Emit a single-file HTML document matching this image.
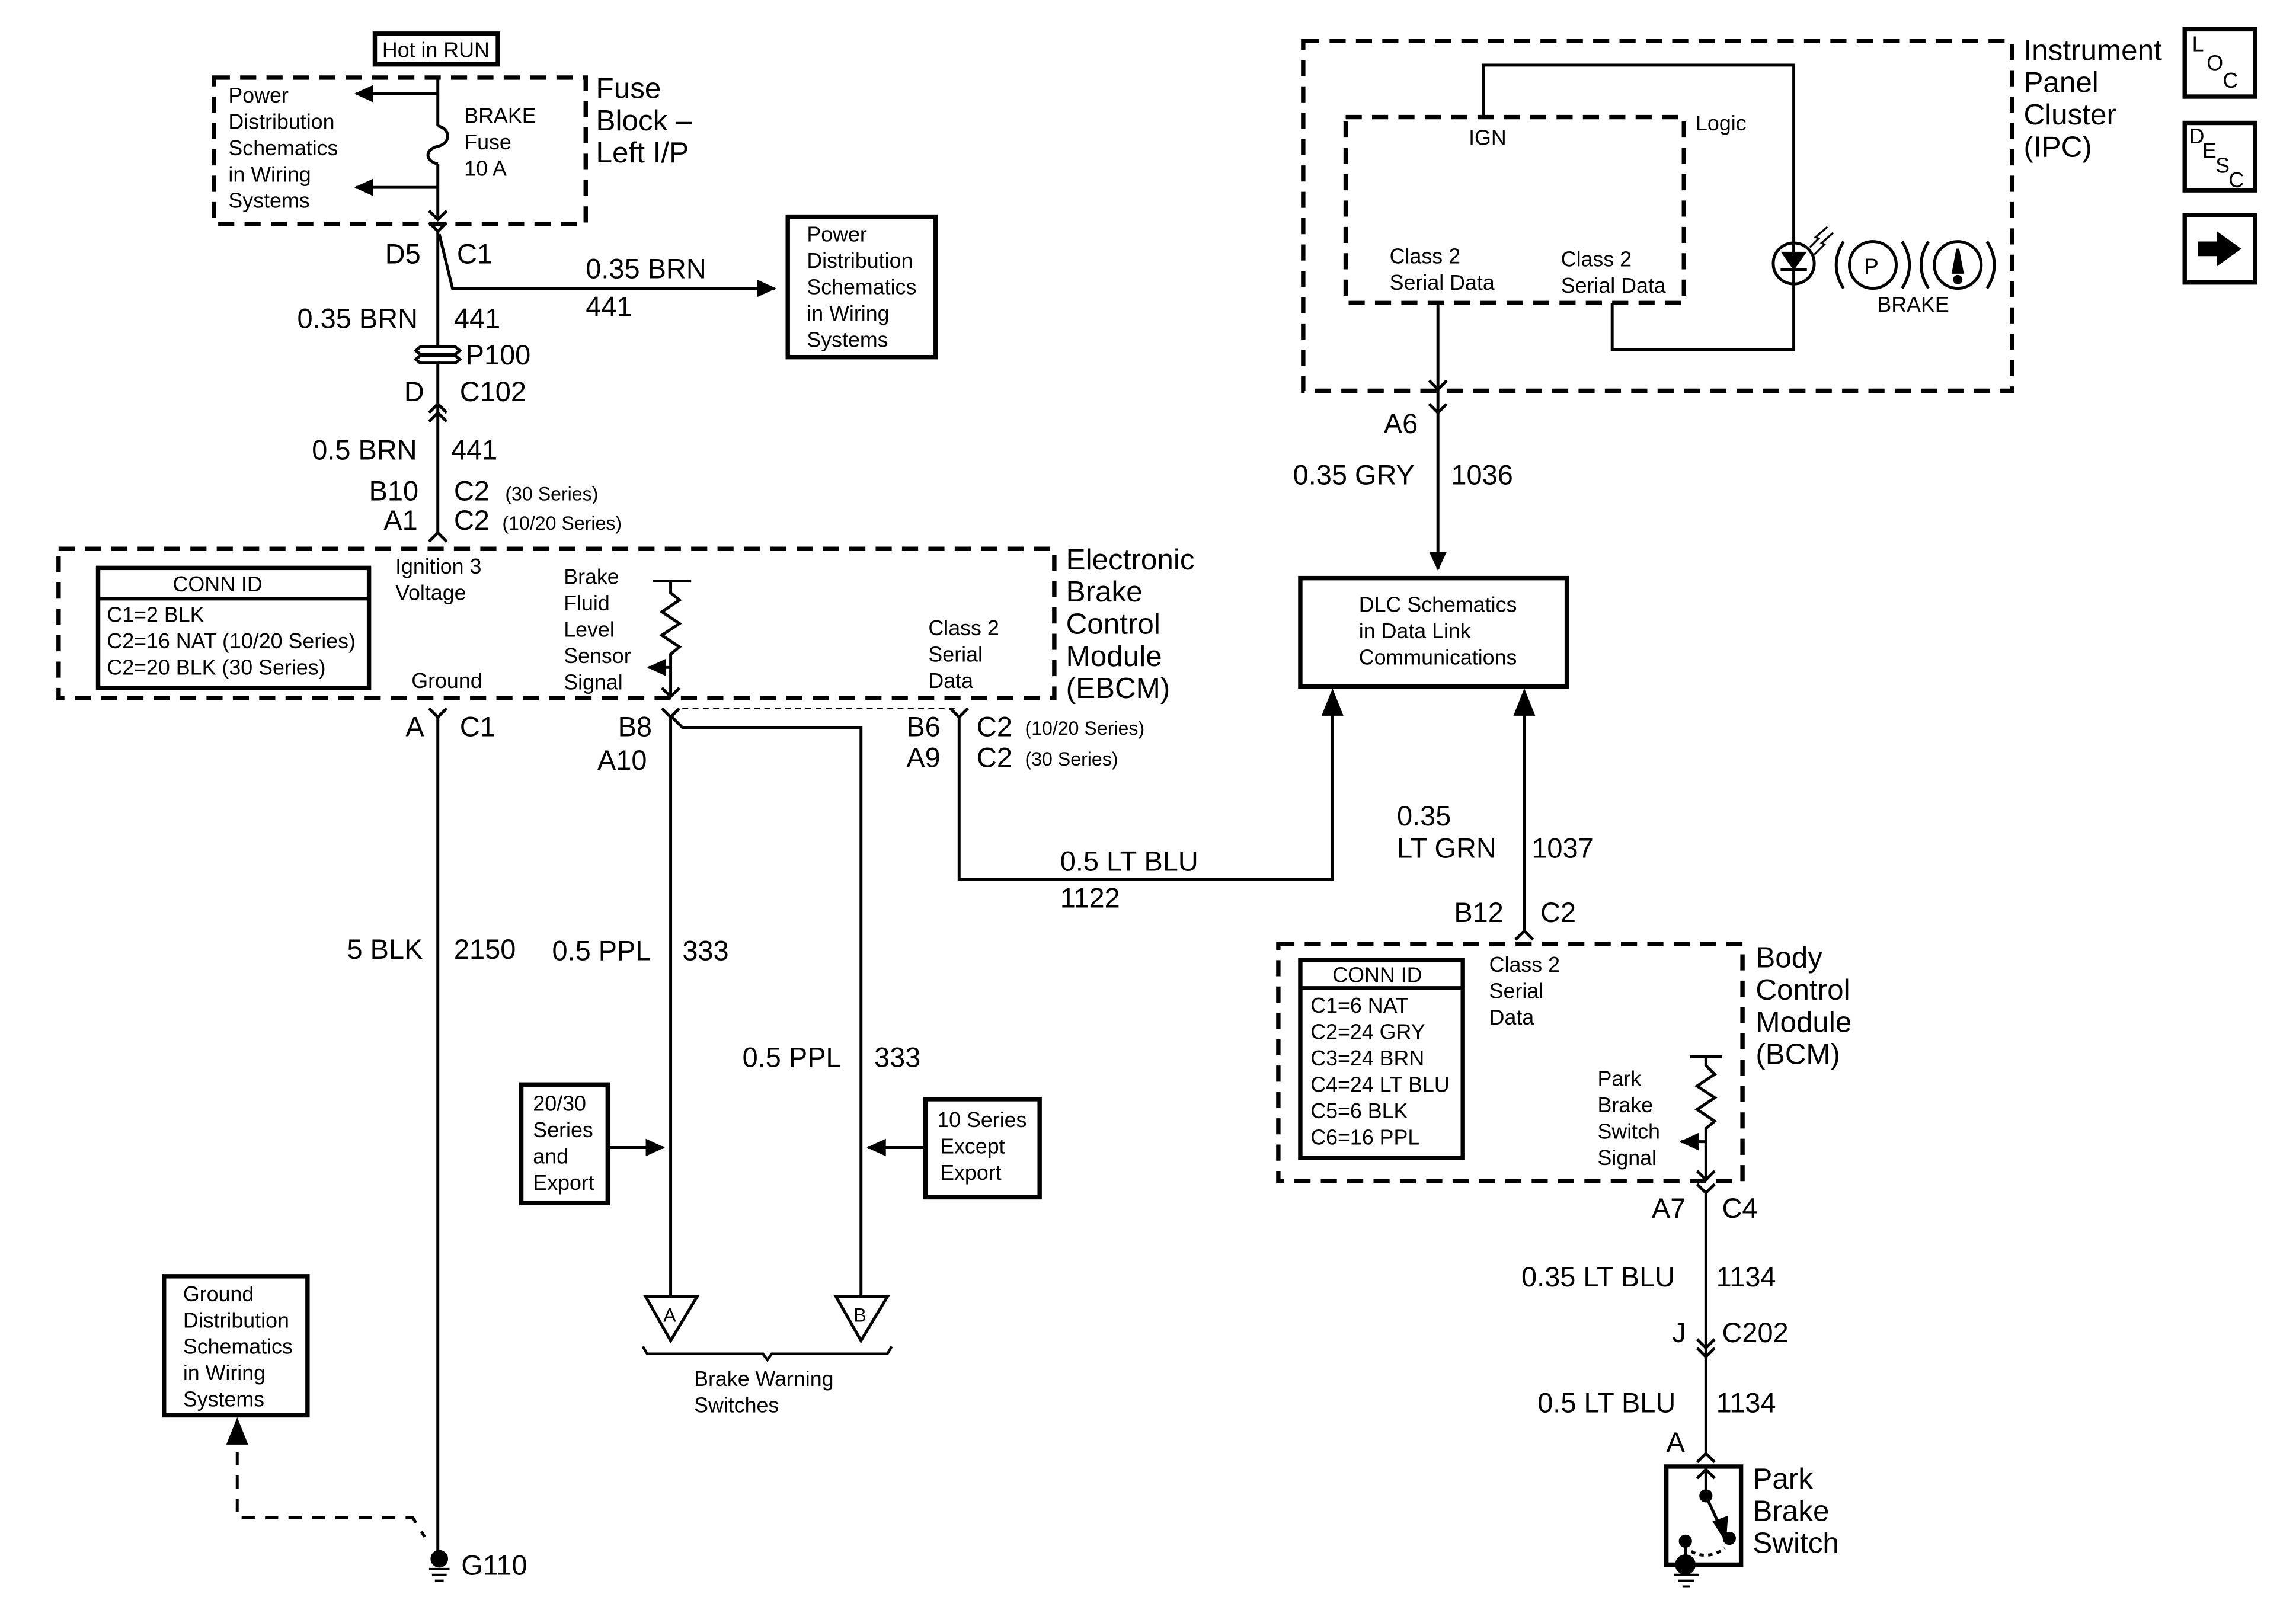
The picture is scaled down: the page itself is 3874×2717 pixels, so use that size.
<!DOCTYPE html>
<html><head><meta charset="utf-8"><style>
html,body{margin:0;padding:0;background:#fff}
svg{display:block}
text{font-family:"Liberation Sans",sans-serif;fill:#000}
.s{font-size:14.5px}
.m{font-size:19px}
.l{font-size:20px}
.xs{font-size:13px}
</style></head><body>
<svg width="3874" height="2717" viewBox="0 0 1568 1100" preserveAspectRatio="none" xmlns="http://www.w3.org/2000/svg">
<defs>
<marker id="ah" markerWidth="13" markerHeight="12" refX="12" refY="6" orient="auto" markerUnits="userSpaceOnUse"><path d="M0,0 L13,6 L0,12 Z" fill="#000"/></marker>
</defs>
<g fill="none" stroke="#000" stroke-width="2">
<rect x="256" y="23" width="84" height="21" stroke-width="3"/>
<rect x="146" y="53" width="254" height="100" stroke-width="3" stroke-dasharray="11 7"/>
<path d="M299 53 V86 M299 112 V150"/>
<path d="M299 86 C308 88 308 98 299 100 C290 102 290 110 299 112"/>
<path d="M299 64 H243" marker-end="url(#ah)"/>
<path d="M299 128 H243" marker-end="url(#ah)"/>
<path d="M293 144 L299 150 L305 144"/>
<path d="M293 152 L299 158 L305 152"/>
<path d="M299 158 V364"/>
<path d="M300 160 L309 197 H529" marker-end="url(#ah)"/>
<rect x="538" y="148" width="101" height="96" stroke-width="3"/>
<path d="M287 237 H311 L314 239.5 L311 242 H287 L284 239.5 Z" fill="#fff"/>
<path d="M287 243 H311 L314 245.5 L311 248 H287 L284 245.5 Z" fill="#fff"/>
<path d="M293 282 L299 276 L305 282 M293 288 L299 282 L305 288"/>
<path d="M293 370 L299 364 L305 370"/>
<rect x="40" y="375" width="680" height="102" stroke-width="3" stroke-dasharray="11 7"/>
<rect x="67" y="388" width="185" height="82" stroke-width="3"/>
<path d="M67 409 H252" stroke-width="2.5"/>
<path d="M446 397 H472 M458 397 V405 L464 410 L452 418 L464 426 L452 434 L464 442 L458 447 V476"/>
<path d="M458 456 H443" marker-end="url(#ah)"/>
<path d="M452 470 L458 476 L464 470"/>
<path d="M293 484 L299 490 L305 484 M299 490 V1062"/>
<path d="M452 484 L458 490 L464 484 M458 490 V886"/>
<path d="M459 490 L466 497 H588 V886"/>
<path d="M466 484 H655" stroke-width="1.2" stroke-dasharray="4 3"/>
<path d="M649 484 L655 490 L661 484 M655 490 V601 H910 V485"/>
<path d="M910 473 L904 488 H916 Z" fill="#000"/>
<rect x="356" y="741" width="59" height="81" stroke-width="3"/>
<path d="M415 784 H453" marker-end="url(#ah)"/>
<rect x="632" y="751" width="78" height="67" stroke-width="3"/>
<path d="M632 784 H593" marker-end="url(#ah)"/>
<path d="M441 886 H476 L458 916 Z"/>
<path d="M571 886 H606 L588 916 Z"/>
<path d="M439 920 L442 925 H521 L524 929 L527 925 H606 L609 920" stroke-width="1.8"/>
<rect x="112" y="872" width="98" height="95" stroke-width="3"/>
<path d="M162 971 L156 986 H168 Z" fill="#000"/>
<path d="M162 992 V1037 H282 L290 1050" stroke-dasharray="9 7"/>
<circle cx="300" cy="1065" r="5" fill="#000"/>
<path d="M293 1072 H307 M295 1076 H305 M297 1080 H303" stroke-width="1.6"/>
<rect x="890" y="28" width="484" height="239" stroke-width="3" stroke-dasharray="11 7"/>
<rect x="919" y="80" width="231" height="127" stroke-width="3" stroke-dasharray="11 7"/>
<path d="M1013 80 V44.5 H1225 V239 H1101 V207"/>
<circle cx="1225" cy="180" r="14"/>
<path d="M1218 173 H1232 L1225 183 Z" fill="#000"/>
<path d="M1216 184 H1234"/>
<path d="M1236 169 L1242 163 L1240 162 L1248 155 M1239 174 L1246 167 L1244 166 L1252 159" stroke-width="1.3"/>
<circle cx="1279" cy="181" r="16"/>
<path d="M1259 165 Q1249 181 1259 197 M1299 165 Q1309 181 1299 197"/>
<circle cx="1337" cy="181" r="16"/>
<path d="M1317 165 Q1307 181 1317 197 M1357 165 Q1367 181 1357 197"/>
<path d="M1337 170 L1334 186 H1340 Z" fill="#000"/>
<circle cx="1337" cy="191" r="2.2" fill="#000"/>
<path d="M982 207 V389" marker-end="url(#ah)"/>
<path d="M976 260 L982 266 L988 260"/>
<path d="M976 276 L982 282 L988 276"/>
<rect x="888" y="395" width="182" height="74" stroke-width="3"/>
<path d="M1041 473 L1035 488 H1047 Z" fill="#000"/>
<path d="M1041 487 V636"/>
<path d="M1035 642 L1041 636 L1047 642"/>
<rect x="873" y="645" width="317" height="162" stroke-width="3" stroke-dasharray="11 7"/>
<rect x="888" y="656" width="111" height="135" stroke-width="3"/>
<path d="M888 675 H999" stroke-width="2.5"/>
<path d="M1154 722 H1176 M1165 722 V728 L1171 734 L1159 742 L1171 750 L1159 758 L1171 766 L1165 771 V806"/>
<path d="M1165 780 H1148" marker-end="url(#ah)"/>
<path d="M1159 800 L1165 806 L1171 800"/>
<path d="M1159 809 L1165 815 L1171 809 M1165 815 V993"/>
<path d="M1159 915 L1165 921 L1171 915 M1159 921 L1165 927 L1171 921"/>
<path d="M1159 999 L1165 993 L1171 999"/>
<rect x="1138" y="1002" width="51" height="67" stroke-width="3"/>
<path d="M1159 1010 L1165 1004 L1171 1010 M1165 1004 V1022 L1177 1048"/>
<path d="M1178 1051 L1171 1040 L1179 1037 Z" fill="#000"/>
<circle cx="1165" cy="1022" r="3.5" fill="#000"/>
<circle cx="1181" cy="1051" r="3.5" fill="#000"/>
<circle cx="1151" cy="1053" r="3.5" fill="#000"/>
<path d="M1151 1053 V1066"/>
<path d="M1155 1060 Q1166 1066 1178 1058" stroke-dasharray="3 3"/>
<circle cx="1151" cy="1069" r="6" fill="#000"/>
<path d="M1143 1076 H1160 M1146 1080 H1157 M1149 1084 H1154" stroke-width="1.6"/>
<rect x="1492" y="20" width="48" height="46" stroke-width="3"/>
<rect x="1492" y="84" width="48" height="46" stroke-width="3"/>
<rect x="1492" y="147" width="48" height="46" stroke-width="3"/>
<path d="M1502 166 H1515 V160 L1529 170 L1515 180 V174 H1502 Z" fill="#000"/>
</g>
<g>
<text class="s" x="261" y="39">Hot in RUN</text>
<text class="s" x="156" y="70">Power</text>
<text class="s" x="156" y="88">Distribution</text>
<text class="s" x="156" y="106">Schematics</text>
<text class="s" x="156" y="124">in Wiring</text>
<text class="s" x="156" y="142">Systems</text>
<text class="s" x="317" y="84">BRAKE</text>
<text class="s" x="317" y="102">Fuse</text>
<text class="s" x="317" y="120">10 A</text>
<text class="l" x="407" y="67">Fuse</text>
<text class="l" x="407" y="89">Block –</text>
<text class="l" x="407" y="111">Left I/P</text>
<text class="m" x="263" y="180">D5</text>
<text class="m" x="312" y="180">C1</text>
<text class="m" x="400" y="190">0.35 BRN</text>
<text class="m" x="400" y="216">441</text>
<text class="s" x="551" y="165">Power</text>
<text class="s" x="551" y="183">Distribution</text>
<text class="s" x="551" y="201">Schematics</text>
<text class="s" x="551" y="219">in Wiring</text>
<text class="s" x="551" y="237">Systems</text>
<text class="m" x="203" y="224">0.35 BRN</text>
<text class="m" x="310" y="224">441</text>
<text class="m" x="318" y="249">P100</text>
<text class="m" x="276" y="274">D</text>
<text class="m" x="314" y="274">C102</text>
<text class="m" x="213" y="314">0.5 BRN</text>
<text class="m" x="308" y="314">441</text>
<text class="m" x="252" y="342">B10</text>
<text class="m" x="310" y="342">C2</text>
<text class="xs" x="345" y="342">(30 Series)</text>
<text class="m" x="262" y="362">A1</text>
<text class="m" x="310" y="362">C2</text>
<text class="xs" x="343" y="362">(10/20 Series)</text>
<text class="s" x="118" y="404">CONN ID</text>
<text class="s" x="73" y="425">C1=2 BLK</text>
<text class="s" x="73" y="443">C2=16 NAT (10/20 Series)</text>
<text class="s" x="73" y="461">C2=20 BLK (30 Series)</text>
<text class="s" x="270" y="392">Ignition 3</text>
<text class="s" x="270" y="410">Voltage</text>
<text class="s" x="281" y="470">Ground</text>
<text class="s" x="385" y="399">Brake</text>
<text class="s" x="385" y="417">Fluid</text>
<text class="s" x="385" y="435">Level</text>
<text class="s" x="385" y="453">Sensor</text>
<text class="s" x="385" y="471">Signal</text>
<text class="s" x="634" y="434">Class 2</text>
<text class="s" x="634" y="452">Serial</text>
<text class="s" x="634" y="470">Data</text>
<text class="l" x="728" y="389">Electronic</text>
<text class="l" x="728" y="411">Brake</text>
<text class="l" x="728" y="433">Control</text>
<text class="l" x="728" y="455">Module</text>
<text class="l" x="728" y="477">(EBCM)</text>
<text class="m" x="277" y="503">A</text>
<text class="m" x="314" y="503">C1</text>
<text class="m" x="422" y="503">B8</text>
<text class="m" x="408" y="526">A10</text>
<text class="m" x="619" y="503">B6</text>
<text class="m" x="619" y="524">A9</text>
<text class="m" x="667" y="503">C2</text>
<text class="xs" x="700" y="502">(10/20 Series)</text>
<text class="m" x="667" y="524">C2</text>
<text class="xs" x="700" y="523">(30 Series)</text>
<text class="m" x="724" y="595">0.5 LT BLU</text>
<text class="m" x="724" y="620">1122</text>
<text class="m" x="237" y="655">5 BLK</text>
<text class="m" x="310" y="655">2150</text>
<text class="m" x="377" y="656">0.5 PPL</text>
<text class="m" x="466" y="656">333</text>
<text class="m" x="507" y="729">0.5 PPL</text>
<text class="m" x="597" y="729">333</text>
<text class="s" x="364" y="759">20/30</text>
<text class="s" x="364" y="777">Series</text>
<text class="s" x="364" y="795">and</text>
<text class="s" x="364" y="813">Export</text>
<text class="s" x="640" y="770">10 Series</text>
<text class="s" x="642" y="788">Except</text>
<text class="s" x="642" y="806">Export</text>
<text class="xs" x="453" y="903">A</text>
<text class="xs" x="583" y="903">B</text>
<text class="s" x="474" y="947">Brake Warning</text>
<text class="s" x="474" y="965">Switches</text>
<text class="s" x="125" y="889">Ground</text>
<text class="s" x="125" y="907">Distribution</text>
<text class="s" x="125" y="925">Schematics</text>
<text class="s" x="125" y="943">in Wiring</text>
<text class="s" x="125" y="961">Systems</text>
<text class="m" x="315" y="1076">G110</text>
<text class="s" x="1003" y="99">IGN</text>
<text class="s" x="1158" y="89">Logic</text>
<text class="s" x="949" y="180">Class 2</text>
<text class="s" x="949" y="198">Serial Data</text>
<text class="s" x="1066" y="182">Class 2</text>
<text class="s" x="1066" y="200">Serial Data</text>
<text x="1273" y="187" style="font-size:15px">P</text>
<text class="s" x="1282" y="213">BRAKE</text>
<text class="l" x="1382" y="41">Instrument</text>
<text class="l" x="1382" y="63">Panel</text>
<text class="l" x="1382" y="85">Cluster</text>
<text class="l" x="1382" y="107">(IPC)</text>
<text class="s" x="1497" y="35">L</text>
<text class="s" x="1507" y="48">O</text>
<text class="s" x="1518" y="60">C</text>
<text class="s" x="1495" y="98">D</text>
<text class="s" x="1504" y="108">E</text>
<text class="s" x="1513" y="118">S</text>
<text class="s" x="1522" y="128">C</text>
<text class="m" x="945" y="296">A6</text>
<text class="m" x="883" y="331">0.35 GRY</text>
<text class="m" x="991" y="331">1036</text>
<text class="s" x="928" y="418">DLC Schematics</text>
<text class="s" x="928" y="436">in Data Link</text>
<text class="s" x="928" y="454">Communications</text>
<text class="m" x="954" y="564">0.35</text>
<text class="m" x="954" y="586">LT GRN</text>
<text class="m" x="1046" y="586">1037</text>
<text class="m" x="993" y="630">B12</text>
<text class="m" x="1052" y="630">C2</text>
<text class="s" x="910" y="671">CONN ID</text>
<text class="s" x="895" y="692">C1=6 NAT</text>
<text class="s" x="895" y="710">C2=24 GRY</text>
<text class="s" x="895" y="728">C3=24 BRN</text>
<text class="s" x="895" y="746">C4=24 LT BLU</text>
<text class="s" x="895" y="764">C5=6 BLK</text>
<text class="s" x="895" y="782">C6=16 PPL</text>
<text class="s" x="1017" y="664">Class 2</text>
<text class="s" x="1017" y="682">Serial</text>
<text class="s" x="1017" y="700">Data</text>
<text class="s" x="1091" y="742">Park</text>
<text class="s" x="1091" y="760">Brake</text>
<text class="s" x="1091" y="778">Switch</text>
<text class="s" x="1091" y="796">Signal</text>
<text class="l" x="1199" y="661">Body</text>
<text class="l" x="1199" y="683">Control</text>
<text class="l" x="1199" y="705">Module</text>
<text class="l" x="1199" y="727">(BCM)</text>
<text class="m" x="1128" y="832">A7</text>
<text class="m" x="1176" y="832">C4</text>
<text class="m" x="1039" y="879">0.35 LT BLU</text>
<text class="m" x="1172" y="879">1134</text>
<text class="m" x="1142" y="917">J</text>
<text class="m" x="1176" y="917">C202</text>
<text class="m" x="1050" y="965">0.5 LT BLU</text>
<text class="m" x="1172" y="965">1134</text>
<text class="m" x="1138" y="992">A</text>
<text class="l" x="1197" y="1017">Park</text>
<text class="l" x="1197" y="1039">Brake</text>
<text class="l" x="1197" y="1061">Switch</text>
</g>
</svg>
</body></html>
